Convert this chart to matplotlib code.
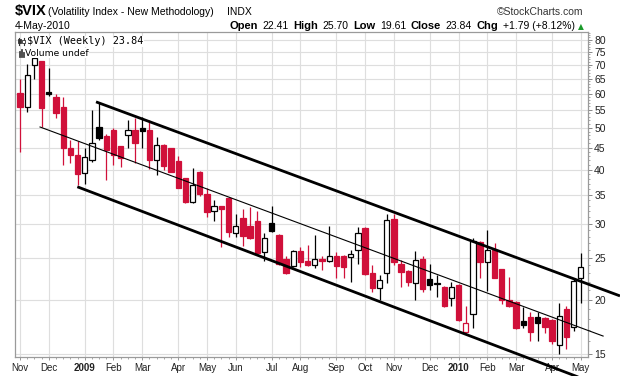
import matplotlib
matplotlib.use("Agg")
import matplotlib.pyplot as plt
from matplotlib.patches import Rectangle
from matplotlib.lines import Line2D
from matplotlib.ticker import FixedLocator, NullFormatter

# ---------------- data (weekly $VIX, Nov 2008 - May 2010) ----------------
opens = [60.2, 55.9, 69.8, 71.3, 60.4, 58.8, 55.7, 44.8, 43.3, 39.2,
         42.0, 50.1, 47.8, 49.3, 45.3, 48.0, 49.3, 49.8, 49.3, 42.2,
         45.7, 44.9, 41.8, 38.2, 33.6, 39.5, 35.2, 32.0, 32.9, 34.4,
         28.6, 30.9, 29.6, 30.4, 25.8, 30.1, 28.3, 24.9, 23.9, 25.9,
         24.6, 24.1, 24.9, 24.6, 25.2, 25.3, 25.1, 26.1, 29.3, 23.0,
         21.3, 23.0, 30.7, 24.2, 23.3, 21.9, 24.8, 22.3, 21.8, 21.4,
         20.2, 21.6, 16.8, 18.5, 27.2, 24.4, 26.0, 23.5, 20.0, 19.8,
         17.8, 18.2, 18.2, 18.1, 17.9, 15.7, 19.0, 17.3, 22.41]
highs = [64.7, 70.2, 74.7, 71.5, 68.6, 59.8, 58.8, 46.8, 46.5, 44.8,
         55.1, 57.3, 48.3, 49.8, 45.4, 52.1, 52.8, 53.0, 52.1, 47.6,
         45.8, 45.0, 43.0, 38.3, 40.3, 39.6, 36.3, 34.0, 32.9, 34.5,
         31.6, 32.5, 32.8, 32.0, 28.5, 32.9, 28.4, 25.3, 26.1, 26.5,
         26.8, 28.3, 25.3, 29.6, 25.8, 25.4, 26.1, 29.4, 29.4, 24.0,
         22.8, 31.5, 31.5, 24.7, 23.4, 25.9, 25.3, 24.2, 22.8, 21.5,
         22.0, 21.7, 19.3, 27.8, 27.3, 29.0, 27.0, 23.6, 22.6, 19.9,
         19.2, 18.7, 18.7, 18.2, 18.0, 19.6, 19.3, 22.4, 25.70]
lows = [43.9, 54.4, 65.0, 50.1, 59.2, 52.8, 40.9, 41.4, 36.8, 37.1,
        41.7, 46.8, 37.8, 40.9, 40.6, 44.8, 41.5, 45.0, 40.2, 38.8,
        39.9, 39.4, 36.2, 33.5, 33.5, 34.8, 31.1, 30.4, 26.5, 27.9,
        28.0, 26.6, 27.7, 25.5, 24.6, 28.7, 24.1, 22.9, 23.8, 23.8,
        23.9, 23.7, 23.4, 24.5, 22.4, 22.5, 22.0, 24.2, 22.8, 20.8,
        20.0, 21.8, 24.0, 21.4, 21.5, 20.0, 20.8, 21.0, 20.3, 19.2,
        19.3, 17.8, 16.7, 17.2, 22.4, 20.9, 22.4, 19.5, 19.2, 17.1,
        17.2, 16.0, 16.0, 16.7, 15.8, 15.0, 15.4, 16.9, 19.61]
closes = [55.9, 66.4, 72.6, 55.6, 60.0, 54.2, 44.8, 43.2, 39.0, 42.7,
          46.0, 47.3, 44.5, 43.3, 42.5, 49.3, 46.1, 49.2, 42.2, 45.7,
          40.7, 39.5, 36.3, 33.6, 36.8, 35.1, 31.9, 33.0, 32.5, 28.7,
          29.6, 28.1, 27.8, 25.7, 27.8, 28.8, 24.2, 23.0, 25.9, 24.5,
          24.0, 24.9, 24.6, 25.2, 23.9, 23.8, 25.5, 28.6, 22.9, 21.3,
          22.2, 30.6, 24.4, 23.2, 22.0, 24.7, 21.2, 21.6, 21.7, 19.3,
          21.4, 17.9, 17.7, 27.3, 24.4, 26.1, 22.5, 20.0, 19.3, 17.2,
          17.5, 16.8, 17.7, 17.3, 16.0, 18.3, 16.4, 22.05, 23.84]
prev_close = 59.9  # close of the week before the first bar

month_labels = ['Nov', 'Dec', '2009', 'Feb', 'Mar', 'Apr', 'May', 'Jun', 'Jul',
                'Aug', 'Sep', 'Oct', 'Nov', 'Dec', '2010', 'Feb', 'Mar', 'Apr', 'May']
month_bars = [0, 4, 9, 13, 17, 22, 26, 30, 35, 39, 44, 48, 52, 57, 61, 65, 69, 74, 78]
year_labels = ['2009', '2010']
price_ticks = [15, 20, 25, 30, 35, 40, 45, 50, 55, 60, 65, 70, 75, 80]

# trend channel lines drawn on the chart: (bar index endpoints, price endpoints)
upper_line_bars, upper_line_prices = [10.57, 83.45], [57.4, 20.4]
mid_line_bars, mid_line_prices = [2.78, 81.1], [50.2, 16.47]
lower_line_bars, lower_line_prices = [7.97, 78.0], [36.5, 13.17]

# header quote values
quote_pieces = [('Open', '22.41'), ('High', '25.70'), ('Low', '19.61'),
                ('Close', '23.84'), ('Chg', '+1.79 (+8.12%)')]

# ---------------- figure ----------------
W, H = 620, 376
fig = plt.figure(figsize=(W / 100, H / 100), dpi=100)
fig.patch.set_facecolor('white')

def fx(x):
    return x / W

def fy(y):
    return 1 - y / H

L, R, T, B = 15, 588, 32, 357
ax = fig.add_axes([fx(L), fy(B), (R - L) / W, (B - T) / H])
ax.set_yscale('log')
ax.set_xlim(-0.7, 79.0)
ax.set_ylim(14.73, 83.3)

RED = '#d0103a'
BLACK = '#000000'
GRID = '#dedede'

ax.yaxis.set_major_locator(FixedLocator(price_ticks))
ax.yaxis.set_minor_locator(FixedLocator(list(range(15, 84))))
ax.yaxis.set_major_formatter(plt.FixedFormatter([str(v) for v in price_ticks]))
ax.yaxis.set_minor_formatter(NullFormatter())
ax.set_xticks(month_bars)
ax.set_xticklabels(month_labels)
ax.xaxis.set_minor_locator(FixedLocator(list(range(len(closes)))))
ax.grid(True, which='major', color=GRID, linewidth=0.85, zorder=0)
ax.set_axisbelow(True)

ax.yaxis.tick_right()
ax.tick_params(axis='y', which='major', direction='out', length=3, width=0.7,
               color='#888888', pad=1.5, labelsize=7.5, labelcolor='#222222')
ax.tick_params(axis='y', which='minor', direction='out', length=1.5, width=0.6,
               color='#999999')
ax.tick_params(axis='x', which='major', direction='out', length=2.5, width=0.7,
               color='#999999', pad=1.5, labelsize=7, labelcolor='#222222')
ax.tick_params(axis='x', which='minor', direction='out', length=1.5, width=0.6,
               color='#999999')
for lab in ax.get_yticklabels():
    lab.set_fontfamily('Liberation Sans')
for lab in ax.get_xticklabels():
    lab.set_fontfamily('Liberation Sans')
    if lab.get_text() in year_labels:
        lab.set_fontweight('bold')

for s in ax.spines.values():
    s.set_color('#9a9a9a')
    s.set_linewidth(0.9)

# candles
body_w = 0.74
pc = prev_close
for i, (o, h, l, c) in enumerate(zip(opens, highs, lows, closes)):
    col = RED if c < pc else BLACK
    top, bot = max(o, c), min(o, c)
    ax.vlines(i, top, h, color=col, linewidth=0.9, zorder=2)
    ax.vlines(i, l, bot, color=col, linewidth=0.9, zorder=2)
    face = 'white' if c >= o else col
    ax.add_patch(Rectangle((i - body_w / 2, bot), body_w, top - bot,
                           facecolor=face, edgecolor=col, linewidth=0.9, zorder=3))
    pc = c

# channel lines
ax.plot(upper_line_bars, upper_line_prices, color='black', linewidth=2.0,
        solid_capstyle='butt', clip_on=False, zorder=4)
ax.plot(mid_line_bars, mid_line_prices, color='black', linewidth=0.8,
        clip_on=False, zorder=4)
ax.plot(lower_line_bars, lower_line_prices, color='black', linewidth=2.0,
        solid_capstyle='butt', clip_on=False, zorder=4)

# ---------------- header text ----------------
SANS = 'Liberation Sans'
fig.text(fx(15), fy(15), '$VIX', fontsize=10.5, fontweight='bold', family=SANS,
         va='baseline', ha='left')
fig.text(fx(48), fy(15), '(Volatility Index - New Methodology)', fontsize=7.5,
         family=SANS, va='baseline')
fig.text(fx(227), fy(15), 'INDX', fontsize=7.5, family=SANS, va='baseline')
fig.text(fx(583), fy(15), '\u00a9StockCharts.com', fontsize=7.5, family=SANS,
         va='baseline', ha='right', color='#333333')
fig.text(fx(15), fy(29), '4-May-2010', fontsize=7.5, family=SANS, va='baseline')

# quote line, laid out piece by piece between x=229 and x=576
renderer = fig.canvas.get_renderer()
items = []
for lab, val in quote_pieces:
    items.append(fig.text(0, fy(29), lab, fontsize=8, family=SANS,
                          fontweight='bold', va='baseline'))
    items.append(fig.text(0, fy(29), val, fontsize=7.5, family=SANS,
                          va='baseline'))
widths = [t.get_window_extent(renderer=renderer).width for t in items]
x0, x1 = 229, 575
gap = (x1 - x0 - sum(widths)) / (len(items) - 1)
x = x0
for t, w in zip(items, widths):
    t.set_x(fx(x))
    x += w + gap
fig.text(fx(578), fy(29), '\u25b2', fontsize=5.5, color='#1a9a2a', va='baseline',
         family='DejaVu Sans')

# legend inside plot
fig.text(fx(27), fy(41.5), '$VIX (Weekly) 23.84', fontsize=7.3,
         family='DejaVu Sans Mono', va='center', ha='left',
         bbox=dict(facecolor='white', edgecolor='none', pad=0.5), zorder=10)
fig.text(fx(25), fy(53), 'Volume undef', fontsize=6.6, family='DejaVu Sans',
         va='center', ha='left',
         bbox=dict(facecolor='white', edgecolor='none', pad=0.5), zorder=10)

def fig_rect(x, y, w, h, fc, ec):
    fig.patches.append(Rectangle((fx(x), fy(y + h)), w / W, h / H, facecolor=fc,
                                 edgecolor=ec, linewidth=0.6,
                                 transform=fig.transFigure, figure=fig, zorder=11))

def fig_line(x0, y0, x1, y1, lw=0.8):
    fig.lines.append(Line2D([fx(x0), fx(x1)], [fy(y0), fy(y1)], color='#333333',
                            linewidth=lw, transform=fig.transFigure, figure=fig,
                            zorder=11))

fig_line(19.5, 37.5, 19.5, 45)
fig_rect(18.3, 39, 2.4, 4, '#333333', '#333333')
fig_line(23.5, 37.5, 23.5, 45)
fig_rect(22.3, 39.5, 2.4, 3.5, 'white', '#333333')
for k, hgt in enumerate([6, 8, 5]):
    fig_rect(18.5 + k * 2, 57 - hgt, 1.4, hgt, '#444444', '#444444')

fig.savefig('out.png', dpi=100, facecolor='white')
